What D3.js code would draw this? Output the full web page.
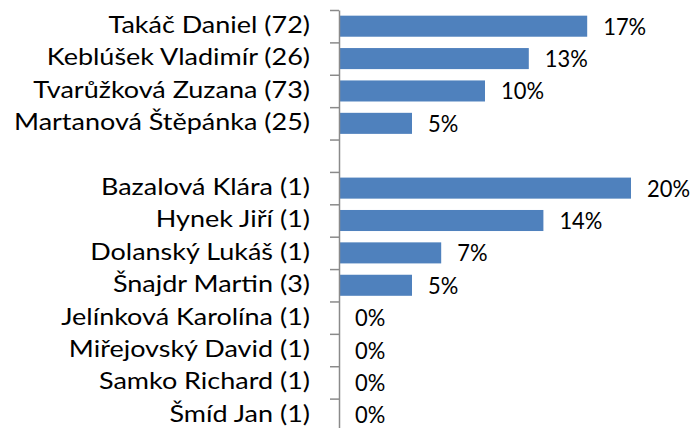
<!DOCTYPE html>
<html>
<head>
<meta charset="utf-8">
<script src="https://cdn.jsdelivr.net/npm/d3@7"></script>
<style>
  html, body { margin: 0; padding: 0; background: #fff; }
  svg { display: block; }
  text { font-family: Lato, "Open Sans", sans-serif; fill: #000; }
</style>
</head>
<body>
<div id="chart"></div>
<script>
// People and their share; the empty entry is a spacer row between the two groups.
const names = ["Takáč Daniel", "Keblúšek Vladimír", "Tvarůžková Zuzana", "Martanová Štěpánka", "",
  "Bazalová Klára", "Hynek Jiří", "Dolanský Lukáš", "Šnajdr Martin",
  "Jelínková Karolína", "Miřejovský David", "Samko Richard", "Šmíd Jan"];
const counts = [72, 26, 73, 25, null, 1, 1, 1, 3, 1, 1, 1, 1];
const shares = [0.17, 0.13, 0.10, 0.05, null, 0.20, 0.14, 0.07, 0.05, 0, 0, 0, 0];

const W = 696, H = 428;
const rows = names.map((n, i) => ({
  key: "r" + i,
  label: n ? `${n} (${counts[i]})` : "",
  value: shares[i]
}));

const svg = d3.select("#chart").append("svg").attr("width", W).attr("height", H);

const x0 = 339;
const x = d3.scaleLinear().domain([0, 0.20]).range([x0, 631]);
const yTop = 10, yBottom = 431;
const y = d3.scaleBand().domain(rows.map(d => d.key)).range([yTop, yBottom])
  .paddingInner(0.35).paddingOuter(0.175);
const yEdge = d3.scaleLinear().domain([0, rows.length]).range([yTop, yBottom]);
const fmt = d3.format(".0%");
const FS = 23;

// Natural width of a string at the label font size
function measure(str) {
  const probe = svg.append("text").style("font-size", FS + "px").text(str);
  const w = probe.node().getComputedTextLength();
  probe.remove();
  return w;
}
const longest = rows.reduce((a, d) => d.label.length > a.length ? d.label : a, "");
const kCat = 296 / measure(longest);
const kVal = 43 / measure("17%");

// Bars
svg.append("g").selectAll("rect")
  .data(rows.filter(d => d.value))
  .join("rect")
  .attr("x", x(0))
  .attr("y", d => y(d.key))
  .attr("width", d => x(d.value) - x(0))
  .attr("height", y.bandwidth())
  .attr("fill", "#4F81BD");

// Category axis with ticks between rows
const axis = svg.append("g").attr("transform", `translate(${x0},0)`)
  .call(d3.axisLeft(yEdge).tickValues(d3.range(rows.length + 1))
    .tickSize(9).tickSizeOuter(0).tickFormat(""));
axis.select(".domain").attr("stroke", "#8a8a8a").attr("stroke-width", 1.5);
axis.selectAll(".tick line").attr("stroke", "#8a8a8a").attr("stroke-width", 1.5);

// Category labels
svg.append("g").selectAll("text")
  .data(rows.filter(d => d.label))
  .join("text")
  .attr("x", 310)
  .attr("y", d => y(d.key) + y.bandwidth() / 2)
  .attr("dy", "0.3em")
  .attr("text-anchor", "end")
  .style("font-size", FS + "px")
  .text(d => d.label)
  .attr("textLength", d => measure(d.label) * kCat)
  .attr("lengthAdjust", "spacingAndGlyphs");

// Value labels
svg.append("g").selectAll("text")
  .data(rows.filter(d => d.value !== null))
  .join("text")
  .attr("x", d => x(d.value) + 16)
  .attr("y", d => y(d.key) + y.bandwidth() / 2)
  .attr("dy", "0.37em")
  .style("font-size", FS + "px")
  .text(d => fmt(d.value))
  .attr("textLength", d => measure(fmt(d.value)) * kVal)
  .attr("lengthAdjust", "spacingAndGlyphs");
</script>
</body>
</html>
